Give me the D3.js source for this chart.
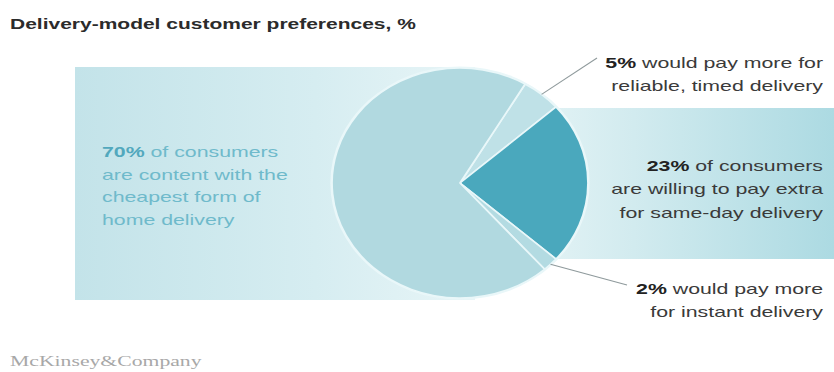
<!DOCTYPE html>
<html>
<head>
<meta charset="utf-8">
<script src="https://cdn.jsdelivr.net/npm/d3@7"></script>
<style>
  html, body { margin: 0; padding: 0; background: #fff; }
  svg { display: block; }
</style>
</head>
<body>
<svg id="chart" width="834" height="372"></svg>
<script>
// Delivery-model customer preferences, %
const title = "Delivery-model customer preferences, %";
const source = "McKinsey&Company";

const segments = ["Reliable, timed delivery", "Same-day delivery", "Instant delivery", "Cheapest home delivery"];
const shares = [5, 23, 2, 70];

// label text that follows the bold percentage, one entry per line
const labelLines = [
  [" would pay more for", "reliable, timed delivery"],
  [" of consumers", "are willing to pay extra", "for same-day delivery"],
  [" would pay more", "for instant delivery"],
  [" of consumers", "are content with the", "cheapest form of", "home delivery"]
];

const W = 834, H = 372;
const svg = d3.select("#chart");
const defs = svg.append("defs");

const FONT = "'Liberation Sans', Arial, Helvetica, sans-serif";
const TEXT_SX = 1.42;          // wide grotesque look
const PIE_SX = 1.113;          // pie is drawn slightly wider than tall

// background bands
const gLeft = defs.append("linearGradient").attr("id", "bandLeft")
  .attr("x1", "0%").attr("x2", "100%").attr("y1", "0%").attr("y2", "0%");
gLeft.append("stop").attr("offset", "0%").attr("stop-color", "#c3e3e9");
gLeft.append("stop").attr("offset", "60%").attr("stop-color", "#d6edf1");
gLeft.append("stop").attr("offset", "100%").attr("stop-color", "#e8f5f7");

const gRight = defs.append("linearGradient").attr("id", "bandRight")
  .attr("x1", "0%").attr("x2", "100%").attr("y1", "0%").attr("y2", "0%");
gRight.append("stop").attr("offset", "0%").attr("stop-color", "#eef8f9");
gRight.append("stop").attr("offset", "45%").attr("stop-color", "#d2ebef");
gRight.append("stop").attr("offset", "100%").attr("stop-color", "#acdae2");

svg.append("rect").attr("x", 75).attr("y", 67).attr("width", 400).attr("height", 233)
  .attr("fill", "url(#bandLeft)");
svg.append("rect").attr("x", 470).attr("y", 108).attr("width", W - 470).attr("height", 151)
  .attr("fill", "url(#bandRight)");

// title
svg.append("text")
  .attr("transform", "translate(10,29) scale(1.4,1)")
  .attr("font-family", FONT).attr("font-size", 15).attr("font-weight", "bold")
  .attr("fill", "#2b2b2b")
  .text(title);

// pie
const cx = 460, cy = 183, R = 115;
const startA = Math.PI / 2 - (shares[0] + shares[1] / 2) / 100 * 2 * Math.PI;
const pie = d3.pie().sort(null).value(d => d)
  .startAngle(startA).endAngle(startA + 2 * Math.PI);
const arcs = pie(shares);
const arc = d3.arc().innerRadius(0).outerRadius(R);

const fills = ["#bfe1e7", "#4aa8bd", "#b3dbe2", "#b1d9e0"];

const pieG = svg.append("g")
  .attr("transform", `translate(${cx},${cy}) scale(${PIE_SX},1)`);

// soft halo round the disc
pieG.append("circle").attr("r", R + 1.5).attr("fill", "#eaf7f9");

pieG.selectAll("path.slice").data(arcs).enter().append("path")
  .attr("class", "slice")
  .attr("d", arc)
  .attr("fill", (d, i) => fills[i])
  .attr("stroke", "#e9f7f9")
  .attr("stroke-width", 1.6)
  .attr("stroke-linejoin", "round");

// leader lines from the small slices
const leaderEnds = { 0: [597, 58], 2: [627, 285] };
Object.keys(leaderEnds).forEach(k => {
  const i = +k;
  const a = (arcs[i].startAngle + arcs[i].endAngle) / 2;
  const x0 = cx + Math.sin(a) * R * PIE_SX;
  const y0 = cy - Math.cos(a) * R;
  svg.append("line")
    .attr("x1", x0).attr("y1", y0)
    .attr("x2", leaderEnds[i][0]).attr("y2", leaderEnds[i][1])
    .attr("stroke", "#8f9a9c").attr("stroke-width", 1.1);
});

// labels
const labelSpec = [
  { x: 823, y: 68, dy: 23.5, anchor: "end", color: "#3a3a3a", pct: "#222" },
  { x: 823, y: 171, dy: 23.5, anchor: "end", color: "#3a3a3a", pct: "#222" },
  { x: 823, y: 294, dy: 23.5, anchor: "end", color: "#3a3a3a", pct: "#222" },
  { x: 102, y: 157, dy: 22.7, anchor: "start", color: "#6fbacb", pct: "#52a8bd" }
];

labelSpec.forEach((s, i) => {
  const g = svg.append("g").attr("transform", `translate(${s.x},${s.y}) scale(${TEXT_SX},1)`);
  const t = g.append("text")
    .attr("font-family", FONT).attr("font-size", 15)
    .attr("text-anchor", s.anchor)
    .attr("fill", s.color);
  labelLines[i].forEach((line, j) => {
    if (j === 0) {
      t.append("tspan").attr("x", 0).attr("y", 0)
        .attr("font-weight", "bold").attr("fill", s.pct)
        .text(shares[i] + "%");
      t.append("tspan").text(line);
    } else {
      t.append("tspan").attr("x", 0).attr("y", j * s.dy).text(line);
    }
  });
});

// source
svg.append("text")
  .attr("transform", "translate(10,366) scale(1.55,1)")
  .attr("font-family", "'Liberation Serif', 'Times New Roman', serif")
  .attr("font-size", 14).attr("fill", "#a8a8a8")
  .text(source);
</script>
</body>
</html>
